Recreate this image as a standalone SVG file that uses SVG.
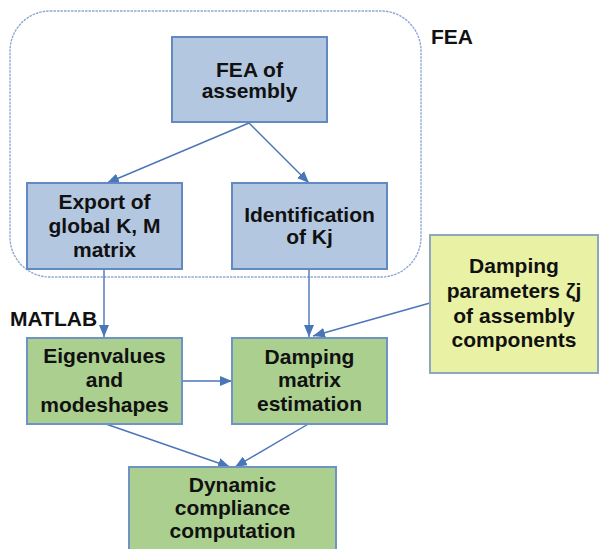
<svg xmlns="http://www.w3.org/2000/svg" width="600" height="549" viewBox="0 0 600 549">
<style>
.t{font-family:"Liberation Sans",Arial,sans-serif;font-weight:bold;font-size:21px;fill:#111;text-anchor:middle}
.lbl{font-family:"Liberation Sans",Arial,sans-serif;font-weight:bold;font-size:21px;fill:#111}
.blue{fill:#b4c7e0;stroke:#6389c2;stroke-width:2}
.green{fill:#aacf8e;stroke:#6f93c4;stroke-width:2}
.yellow{fill:#e9f2a4;stroke:#8fa6c0;stroke-width:2}
.c{stroke:#4a76b8;stroke-width:1.4;fill:none;marker-end:url(#ah)}
</style>
<defs>
<marker id="ah" viewBox="0 0 12 10" refX="12" refY="5" markerWidth="12" markerHeight="10" markerUnits="userSpaceOnUse" orient="auto">
<path d="M0,0 L12,5 L0,10 z" fill="#4a76b8"/>
</marker>
</defs>
<rect x="10" y="11" width="411" height="266" rx="40" ry="40" fill="none" stroke="#8ea9d2" stroke-width="1.4" stroke-dasharray="2.5,1"/>
<text class="lbl" x="431" y="44">FEA</text>
<text class="lbl" x="10" y="326">MATLAB</text>
<g id="connectors">
<line class="c" x1="249" y1="123" x2="107" y2="183"/>
<line class="c" x1="249" y1="123" x2="309" y2="183"/>
<line class="c" x1="104" y1="269" x2="104" y2="337"/>
<line class="c" x1="309" y1="269" x2="309" y2="337"/>
<line class="c" x1="430" y1="303" x2="313" y2="336"/>
<line class="c" x1="182" y1="381" x2="232" y2="381"/>
<line class="c" x1="103" y1="423" x2="230" y2="467"/>
<line class="c" x1="310" y1="423" x2="235" y2="467"/>
</g>
<g id="fea">
<rect class="blue" x="172" y="37" width="155" height="85"/>
<text class="t" x="249.5" y="77">FEA of</text>
<text class="t" x="249.5" y="98">assembly</text>
</g>
<g id="export">
<rect class="blue" x="27" y="183" width="155" height="86"/>
<text class="t" x="104.5" y="209">Export of</text>
<text class="t" x="104.5" y="233">global K, M</text>
<text class="t" x="104.5" y="257">matrix</text>
</g>
<g id="ident">
<rect class="blue" x="232" y="183" width="155" height="86"/>
<text class="t" x="309.5" y="222">Identification</text>
<text class="t" x="309.5" y="244">of Kj</text>
</g>
<g id="dampparams">
<rect class="yellow" x="430" y="235" width="168" height="138"/>
<text class="t" x="514" y="273">Damping</text>
<text class="t" x="514" y="298">parameters ζj</text>
<text class="t" x="514" y="323">of assembly</text>
<text class="t" x="514" y="347">components</text>
</g>
<g id="eigen">
<rect class="green" x="27" y="338" width="155" height="86"/>
<text class="t" x="104.5" y="363">Eigenvalues</text>
<text class="t" x="104.5" y="387">and</text>
<text class="t" x="104.5" y="412">modeshapes</text>
</g>
<g id="dampmatrix">
<rect class="green" x="232" y="338" width="155" height="86"/>
<text class="t" x="309.5" y="364">Damping</text>
<text class="t" x="309.5" y="387">matrix</text>
<text class="t" x="309.5" y="411">estimation</text>
</g>
<g id="dynamic">
<rect class="green" x="129" y="467" width="207" height="90"/>
<text class="t" x="232.5" y="492">Dynamic</text>
<text class="t" x="232.5" y="515">compliance</text>
<text class="t" x="232.5" y="538">computation</text>
</g>
</svg>
